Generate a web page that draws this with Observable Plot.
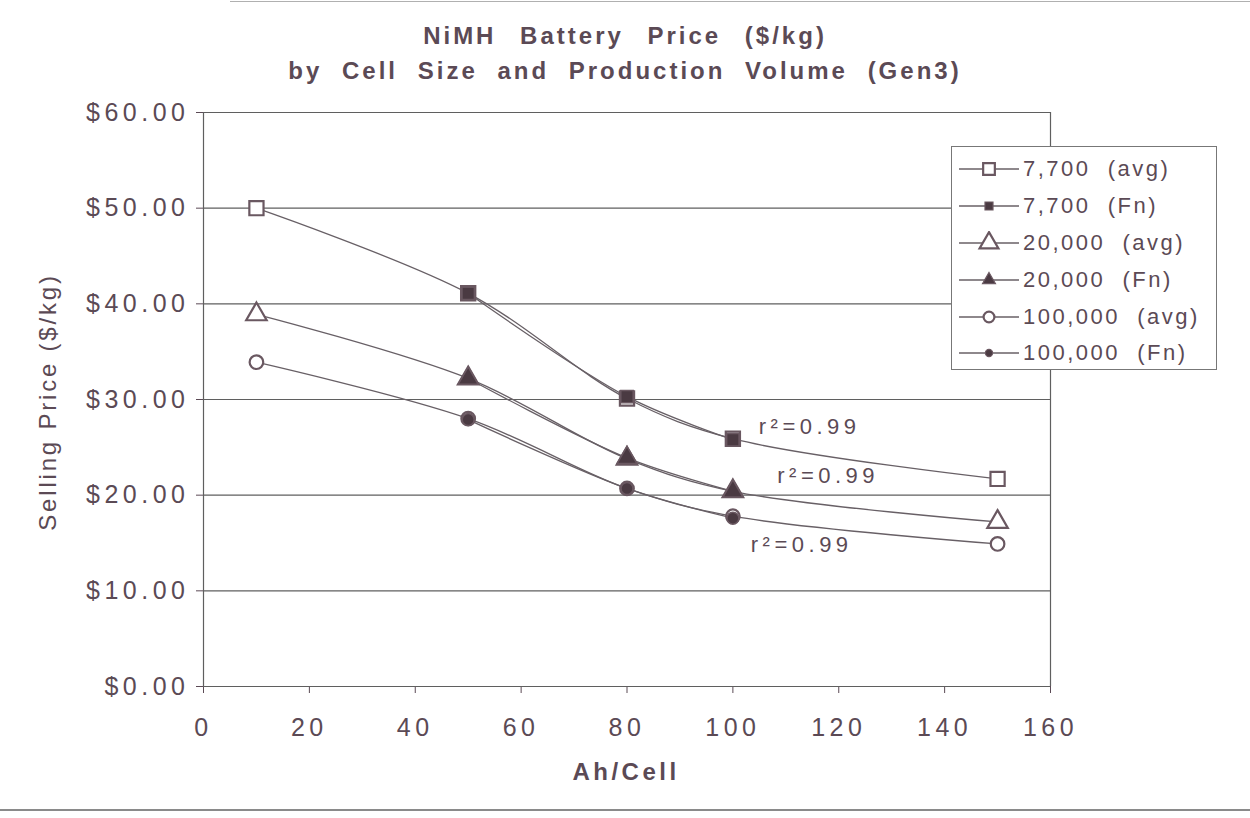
<!DOCTYPE html>
<html>
<head>
<meta charset="utf-8">
<script src="https://cdn.jsdelivr.net/npm/d3@7"></script>
<script src="https://cdn.jsdelivr.net/npm/@observablehq/plot@0.6"></script>
<style>
  html, body { margin: 0; padding: 0; background: #fff; }
  #wrap { position: relative; width: 1250px; height: 818px; overflow: hidden; background: #fff;
          font-family: "Liberation Sans", Arial, sans-serif; color: #5b4a55; }
  #title { height: 95px; text-align: center; font-weight: bold; font-size: 24px; letter-spacing: 3px;
           word-spacing: 10px; line-height: 35px; padding-top: 18px; box-sizing: border-box; }
  #title .l1 { word-spacing: 14px; }
  #chart svg text { letter-spacing: 4.5px; }
  #ylab { position: absolute; left: 48px; top: 402px; transform: translate(-50%, -50%) rotate(-90deg);
          font-family: "Liberation Sans Narrow", "Arial Narrow", "Liberation Sans", sans-serif;
          font-size: 24px; letter-spacing: 2.8px; white-space: nowrap; }
  #xlab { position: absolute; left: 626px; top: 772px; transform: translate(-50%, -50%);
          font-size: 24px; font-weight: bold; letter-spacing: 3.5px; white-space: nowrap; }
  #legend { position: absolute; left: 951px; top: 146px; width: 266px; height: 224px; box-sizing: border-box;
            border: 1.5px solid #777; background: #fff; padding-top: 4px; }
  .lrow { display: flex; align-items: center; height: 36.8px; }
  .lrow svg { margin-left: 7px; flex: none; }
  .lrow span { font-size: 22px; letter-spacing: 2.5px; white-space: pre; margin-left: 4px; }
  #bottomline { position: absolute; left: 0; top: 809px; width: 1250px; height: 2px; background: #8a8a8a; }
  #topline { position: absolute; left: 230px; top: 1px; width: 1020px; height: 1px; background: #b0b0b0; }
</style>
</head>
<body>
<div id="wrap">
  <div id="topline"></div>
  <div id="title"><span class="l1">NiMH Battery Price ($/kg)</span><br>by Cell Size and Production Volume (Gen3)</div>
  <div id="chart"></div>
  <div id="ylab">Selling Price ($/kg)</div>
  <div id="xlab">Ah/Cell</div>
  <div id="legend"></div>
  <div id="bottomline"></div>
</div>
<script>
// ---- data ----
const cellSizes = [10, 50, 80, 100, 150];      // Ah/Cell for "avg" series
const fnCellSizes = [50, 80, 100];             // Ah/Cell for "Fn" series
const avg7700   = [50.0, 41.1, 30.1, 25.9, 21.7];
const fn7700    = [41.1, 30.3, 25.8];
const avg20000  = [38.9, 32.2, 23.8, 20.4, 17.2];
const fn20000   = [32.2, 23.9, 20.4];
const avg100000 = [33.9, 28.0, 20.7, 17.8, 14.9];
const fn100000  = [27.9, 20.7, 17.6];
const xTicks = [0, 20, 40, 60, 80, 100, 120, 140, 160];
const yTicks = [0, 10, 20, 30, 40, 50, 60];
const seriesNames = ["7,700  (avg)", "7,700  (Fn)", "20,000  (avg)", "20,000  (Fn)", "100,000  (avg)", "100,000  (Fn)"];
const rLabelText = ["r²=0.99", "r²=0.99", "r²=0.99"];
const rLabelX = [114.5, 118, 113];
const rLabelY = [27.1, 22.0, 14.8];

// ---- build tables ----
const lineColor = "#686066";
const markColor = "#6a5861";
const darkFill = "#4a3a42";
const seriesDefs = [
  {name: seriesNames[0], xs: cellSizes,   ys: avg7700,   symbol: "square",   filled: false, r: 8.0, lr: 6.6},
  {name: seriesNames[1], xs: fnCellSizes, ys: fn7700,    symbol: "square",   filled: true,  r: 7.0, lr: 4.5},
  {name: seriesNames[2], xs: cellSizes,   ys: avg20000,  symbol: "triangle", filled: false, r: 7.6, lr: 7.0},
  {name: seriesNames[3], xs: fnCellSizes, ys: fn20000,   symbol: "triangle", filled: true,  r: 7.4, lr: 4.8},
  {name: seriesNames[4], xs: cellSizes,   ys: avg100000, symbol: "circle",   filled: false, r: 6.8, lr: 5.4},
  {name: seriesNames[5], xs: fnCellSizes, ys: fn100000,  symbol: "circle",   filled: true,  r: 6.0, lr: 3.6}
];
const tables = seriesDefs.map(s => s.xs.map((x, i) => ({x, y: s.ys[i], series: s.name})));
const rLabels = rLabelText.map((t, i) => ({x: rLabelX[i], y: rLabelY[i], t}));

const marks = [
  Plot.ruleY(yTicks, {stroke: "#5f5f5f", strokeWidth: 1.2}),
  Plot.ruleX([0, 160], {stroke: "#5f5f5f", strokeWidth: 1.2})
];
tables.forEach(t => marks.push(Plot.line(t, {x: "x", y: "y", curve: "catmull-rom", stroke: lineColor, strokeWidth: 1.3})));
seriesDefs.forEach((s, i) => marks.push(Plot.dot(tables[i], {
  x: "x", y: "y", symbol: () => s.symbol, r: s.r,
  fill: s.filled ? darkFill : "white", stroke: markColor, strokeWidth: s.filled ? 1.5 : 2.2
})));
marks.push(Plot.text(rLabels, {x: "x", y: "y", text: "t", fontSize: 22, fill: "#5b4a55"}));

const chart = Plot.plot({
  width: 1250, height: 723,
  marginLeft: 203, marginRight: 200, marginTop: 17, marginBottom: 132,
  style: {fontFamily: "'Liberation Sans', Arial, sans-serif", fontSize: "25px", color: "#5b4a55", background: "white", overflow: "visible"},
  x: {domain: [0, 160], ticks: xTicks, tickSize: 7, tickPadding: 25, tickFormat: d => String(d), label: null},
  y: {domain: [0, 60], ticks: yTicks, tickSize: 7, tickPadding: 7, tickFormat: d => "$" + d.toFixed(2), label: null},
  symbol: {type: "identity"},
  marks
});
document.getElementById("chart").appendChild(chart);

// ---- legend ----
const legend = document.getElementById("legend");
seriesDefs.forEach(s => {
  const row = document.createElement("div");
  row.className = "lrow";
  const ns = "http://www.w3.org/2000/svg";
  const svg = document.createElementNS(ns, "svg");
  svg.setAttribute("width", 60); svg.setAttribute("height", 24);
  const ln = document.createElementNS(ns, "line");
  ln.setAttribute("x1", 0); ln.setAttribute("x2", 60); ln.setAttribute("y1", 12); ln.setAttribute("y2", 12);
  ln.setAttribute("stroke", lineColor); ln.setAttribute("stroke-width", 1.3);
  svg.appendChild(ln);
  const p = document.createElementNS(ns, "path");
  const sym = {square: d3.symbolSquare, triangle: d3.symbolTriangle, circle: d3.symbolCircle}[s.symbol];
  const rr = s.lr;
  p.setAttribute("d", d3.symbol(sym, rr * rr * Math.PI)());
  p.setAttribute("transform", "translate(30,12)");
  p.setAttribute("fill", s.filled ? darkFill : "white");
  p.setAttribute("stroke", markColor);
  p.setAttribute("stroke-width", s.filled ? 1.2 : 2.2);
  svg.appendChild(p);
  row.appendChild(svg);
  const sp = document.createElement("span");
  sp.textContent = s.name;
  row.appendChild(sp);
  legend.appendChild(row);
});
</script>
</body>
</html>
